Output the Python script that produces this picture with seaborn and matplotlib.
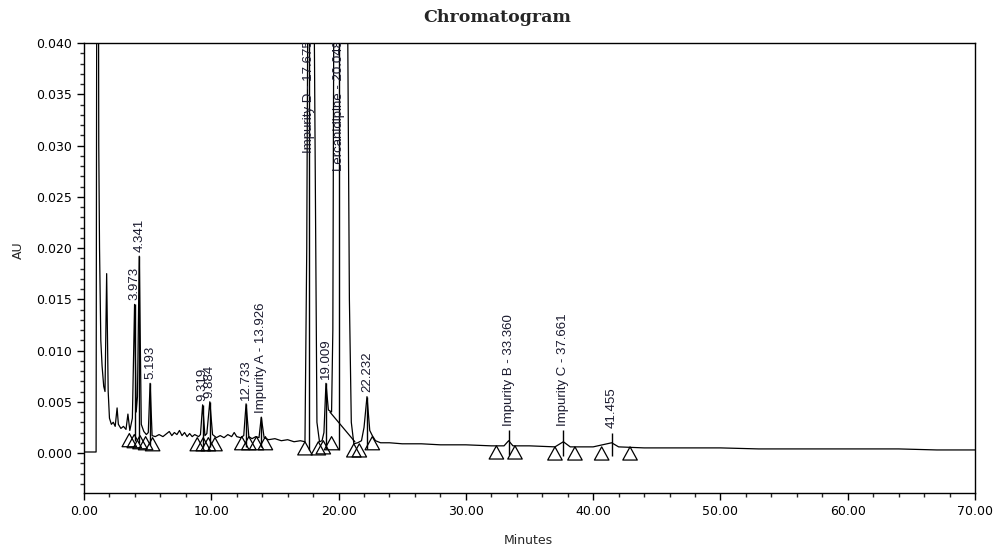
import numpy as np
import pandas as pd
import matplotlib
matplotlib.use("Agg")
import matplotlib.pyplot as plt
from matplotlib.path import Path
from matplotlib.ticker import MultipleLocator, FormatStrFormatter
import seaborn as sns

# ---------------- data ----------------
time_min = [0.00, 0.50, 0.95, 1.00, 1.06, 1.12, 1.16, 1.22, 1.32, 1.42, 1.55, 1.65,
            1.78, 1.90, 2.00, 2.15, 2.30, 2.45, 2.60, 2.70, 2.90, 3.10, 3.30, 3.45,
            3.60, 3.80, 3.973, 4.10, 4.20, 4.341, 4.50, 4.70, 4.90, 5.05, 5.193, 5.35,
            5.60, 5.90, 6.20, 6.50, 6.70, 6.90, 7.10, 7.30, 7.50, 7.70, 7.90, 8.10,
            8.30, 8.50, 8.70, 9.00, 9.15, 9.319, 9.50, 9.65, 9.884, 10.10, 10.40, 10.70,
            11.00, 11.30, 11.60, 11.80, 12.00, 12.30, 12.55, 12.733, 12.95, 13.20, 13.50,
            13.75, 13.926, 14.15, 14.50, 15.00, 15.50, 16.00, 16.50, 17.00, 17.36, 17.50,
            17.675, 17.90, 18.10, 18.30, 18.50, 18.70, 18.85, 19.009, 19.20, 19.45, 19.55,
            19.62, 19.75, 20.048, 20.40, 20.70, 20.85, 21.00, 21.20, 21.50, 21.80, 22.00,
            22.232, 22.45, 22.65, 22.90, 23.30, 24.00, 25.00, 26.50, 28.00, 30.00, 32.00,
            33.00, 33.360, 33.70, 35.00, 37.00, 37.661, 38.20, 40.00, 41.455, 42.00, 44.00,
            47.00, 50.00, 53.00, 56.00, 60.00, 64.00, 67.00, 70.00]
absorbance_au = [0.0001, 0.0001, 0.0001, 0.0450, 0.0900, 0.0600, 0.0300, 0.0200, 0.0110, 0.0085, 0.0065, 0.0060,
                 0.0175, 0.0060, 0.0034, 0.0028, 0.0030, 0.0026, 0.0044, 0.0028, 0.0024, 0.0026, 0.0023, 0.0038,
                 0.0022, 0.0034, 0.0145, 0.0040, 0.0055, 0.0192, 0.0028, 0.0021, 0.0018, 0.0020, 0.0068, 0.0017,
                 0.0016, 0.0018, 0.0016, 0.0019, 0.0021, 0.0017, 0.0020, 0.0018, 0.0022, 0.0017, 0.0020, 0.0016,
                 0.0019, 0.0016, 0.0018, 0.0016, 0.0018, 0.0047, 0.0017, 0.0019, 0.0050, 0.0018, 0.0015, 0.0017,
                 0.0015, 0.0018, 0.0016, 0.0020, 0.0016, 0.0015, 0.0017, 0.0048, 0.0016, 0.0014, 0.0016,
                 0.0015, 0.0035, 0.0015, 0.0013, 0.0014, 0.0012, 0.0013, 0.0011, 0.0012, 0.0011, 0.0200,
                 0.0700, 0.0600, 0.0400, 0.0030, 0.0011, 0.0012, 0.0020, 0.0068, 0.0042, 0.0040, 0.0120,
                 0.0400, 0.1200, 0.2500, 0.1200, 0.0450, 0.0150, 0.0030, 0.0009, 0.0010, 0.0012, 0.0025,
                 0.0055, 0.0022, 0.0017, 0.0012, 0.0010, 0.0010, 0.0009, 0.0009, 0.0008, 0.0008, 0.0007,
                 0.0007, 0.0012, 0.0007, 0.0007, 0.0006, 0.0011, 0.0006, 0.0006, 0.0010, 0.0006, 0.0005,
                 0.0005, 0.0005, 0.0004, 0.0004, 0.0004, 0.0004, 0.0003, 0.0003]

# integration drop line under the main peak
dropline_time = [19.32, 21.28]
dropline_au = [0.0040, 0.0011]

# labelled peaks
peak_labels = ["3.973", "4.341", "5.193", "9.319", "9.884", "12.733", "Impurity A - 13.926",
               "Impurity D - 17.675", "19.009", "Lercanidipine - 20.048", "22.232",
               "Impurity B - 33.360", "Impurity C - 37.661", "41.455"]
peak_times = [3.973, 4.341, 5.193, 9.319, 9.884, 12.733, 13.926,
              17.675, 19.009, 20.048, 22.232, 33.360, 37.661, 41.455]
peak_tops = [0.0145, 0.0192, 0.0068, 0.0047, 0.0050, 0.0048, 0.0035,
             0.0700, 0.0068, 0.2500, 0.0055, 0.0022, 0.0022, 0.0020]
peak_bottoms = [0.0012, 0.0010, 0.0008, 0.0006, 0.0006, 0.0006, 0.0006,
                0.0003, 0.0004, 0.0003, 0.0004, -0.0002, -0.0003, -0.0003]

# peak start / end markers (triangles)
mark_times = [3.56, 3.95, 4.40, 4.84, 5.39,
              8.90, 9.37, 9.77, 10.29,
              12.40, 12.95, 13.55, 14.25,
              17.36, 18.41, 18.80, 19.45, 21.20, 21.63, 22.65,
              32.40, 33.86, 37.00, 38.57, 40.67, 42.90]
mark_au = [0.0019, 0.0018, 0.0017, 0.0016, 0.0015,
           0.0015, 0.0015, 0.0015, 0.0015,
           0.0016, 0.0016, 0.0016, 0.0016,
           0.0011, 0.0011, 0.0012, 0.0016, 0.0009, 0.0009, 0.0016,
           0.0007, 0.0007, 0.0006, 0.0006, 0.0006, 0.0006]

x_ticks = [0, 10, 20, 30, 40, 50, 60, 70]
y_ticks = [0.000, 0.005, 0.010, 0.015, 0.020, 0.025, 0.030, 0.035, 0.040]

# ---------------- figure ----------------
sns.set_style("white")
plt.rcParams["font.family"] = ["DejaVu Sans"]

fig = plt.figure(figsize=(9.95, 5.52), dpi=100)
ax = fig.add_axes([84 / 995, 1 - 493 / 552, (975 - 84) / 995, (493 - 43) / 552])

trace = pd.DataFrame({"Minutes": time_min, "AU": absorbance_au})
sns.lineplot(data=trace, x="Minutes", y="AU", ax=ax, color="black", linewidth=0.9,
             sort=False, estimator=None)
drop = pd.DataFrame({"Minutes": dropline_time, "AU": dropline_au})
sns.lineplot(data=drop, x="Minutes", y="AU", ax=ax, color="black", linewidth=0.9,
             sort=False, estimator=None)

ax.set_xlim(0, 70)
ax.set_ylim(-0.0039, 0.040)
ymax = 0.040

# peak marker lines
ax.vlines(peak_times, peak_bottoms, [min(t, 0.05) for t in peak_tops],
          colors="black", linewidth=1.0)

# peak labels
for lab, t, top in zip(peak_labels, peak_times, peak_tops):
    if top >= ymax:
        ax.text(t, ymax + 0.0003, lab, rotation=90, ha="center", va="top",
                fontsize=9.5, family="Liberation Sans", color="#1a1a2e",
                clip_on=True)
    else:
        ax.annotate(lab, (t, top), xytext=(0, 3), textcoords="offset points",
                    rotation=90, ha="center", va="bottom", fontsize=9.5,
                    family="Liberation Sans", color="#1a1a2e")

# triangles
tri = Path([(0, 0), (-0.55, -1.0), (0.55, -1.0), (0, 0)], closed=True)
marks = pd.DataFrame({"Minutes": mark_times, "AU": mark_au})
sns.scatterplot(data=marks, x="Minutes", y="AU", ax=ax, marker=tri, s=360,
                color="none", edgecolor="black", linewidth=0.9, zorder=3)

# axes styling
ax.set_xticks(x_ticks)
ax.set_yticks(y_ticks)
ax.xaxis.set_minor_locator(MultipleLocator(2))
ax.yaxis.set_minor_locator(MultipleLocator(0.001))
ax.xaxis.set_major_formatter(FormatStrFormatter("%.2f"))
ax.yaxis.set_major_formatter(FormatStrFormatter("%.3f"))
ax.tick_params(axis="both", which="major", direction="out", length=5, width=1,
               labelsize=9, colors="black", top=False, right=False,
               left=True, bottom=True)
ax.tick_params(axis="both", which="minor", direction="out", length=3, width=1,
               top=False, right=False, left=True, bottom=True)
for sp in ax.spines.values():
    sp.set_color("black")
    sp.set_linewidth(1.0)
ax.set_xlabel("")
ax.set_ylabel("")

fig.text(528 / 995, 1 - 540 / 552, "Minutes", ha="center", va="center", fontsize=9)
fig.text(18 / 995, 1 - 250 / 552, "AU", ha="center", va="center", rotation=90, fontsize=9)
fig.text(0.5, 1 - 18 / 552, "Chromatogram", ha="center", va="center",
         fontsize=12.5, fontweight="bold", family="DejaVu Serif")

fig.savefig("out.png", dpi=100)
